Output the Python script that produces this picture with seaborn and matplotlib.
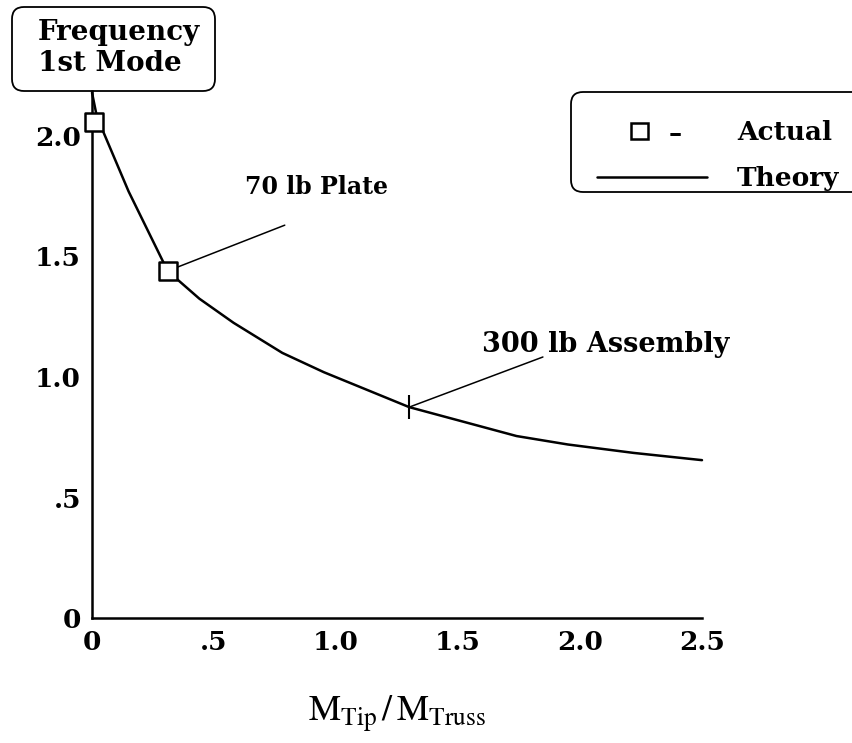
import matplotlib
matplotlib.use("Agg")
import matplotlib.pyplot as plt
import seaborn as sns
import pandas as pd
from matplotlib.patches import FancyBboxPatch
from matplotlib.lines import Line2D
from matplotlib.markers import MarkerStyle
from matplotlib.transforms import IdentityTransform, Affine2D

# ---- data ----
theory_x = [0.0, 0.02, 0.15, 0.31, 0.44, 0.58, 0.78, 0.95, 1.30, 1.74, 1.95, 2.22, 2.50]
theory_y = [2.18, 2.08, 1.77, 1.44, 1.325, 1.225, 1.10, 1.02, 0.875, 0.755, 0.72, 0.685, 0.655]
actual_x = [0.01, 0.31]
actual_y = [2.06, 1.44]
assembly_x = [1.30]
assembly_y = [0.875]
xticks = [0, 0.5, 1.0, 1.5, 2.0, 2.5]
xtick_labels = ["0", ".5", "1.0", "1.5", "2.0", "2.5"]
yticks = [0, 0.5, 1.0, 1.5, 2.0]
ytick_labels = ["0", ".5", "1.0", "1.5", "2.0"]

W, H = 852, 743
sns.set_theme(style="white")
plt.rcParams["font.family"] = ["DejaVu Serif"]
plt.rcParams["mathtext.fontset"] = "stix"
plt.rcParams["text.color"] = "black"
plt.rcParams["axes.labelcolor"] = "black"
plt.rcParams["xtick.color"] = "black"
plt.rcParams["ytick.color"] = "black"

fig = plt.figure(figsize=(W / 100, H / 100), dpi=100)
ax = fig.add_axes([92 / W, 125 / H, 610 / W, 527 / H])
ax.patch.set_visible(False)

df_t = pd.DataFrame({"x": theory_x, "y": theory_y})
sns.lineplot(data=df_t, x="x", y="y", ax=ax, color="black", lw=1.8,
             sort=False, clip_on=False, zorder=2)

# leader lines
ax.plot([0.31, 0.79], [1.44, 1.63], color="black", lw=1.1, zorder=1)
ax.plot([1.30, 1.848], [0.875, 1.083], color="black", lw=1.1, zorder=1)

df_a = pd.DataFrame({"x": actual_x, "y": actual_y})
sns.scatterplot(data=df_a, x="x", y="y", ax=ax, marker="s", s=12.5 ** 2,
                facecolor="white", edgecolor="black", linewidth=1.8,
                clip_on=False, zorder=3)
df_s = pd.DataFrame({"x": assembly_x, "y": assembly_y})
sns.scatterplot(data=df_s, x="x", y="y", ax=ax, marker="|", s=17 ** 2,
                color="black", linewidth=1.5, clip_on=False, zorder=3)

ax.text(0.627, 1.79, "70 lb Plate", fontsize=17, fontweight="bold",
        ha="left", va="center")
ax.text(1.598, 1.133, "300 lb Assembly", fontsize=19.5, fontweight="bold",
        ha="left", va="center")

ax.set_xlim(0, 2.5)
ax.set_ylim(0, 527 / 241)
ax.set_xticks(xticks)
ax.set_xticklabels(xtick_labels)
ax.set_yticks(yticks)
ax.set_yticklabels(ytick_labels)
for lab in ax.get_xticklabels() + ax.get_yticklabels():
    lab.set_fontweight("bold")
    lab.set_fontsize(19)
ax.tick_params(axis="both", direction="in", length=9, width=1.5,
               color="black", labelcolor="black")
ax.tick_params(axis="y", pad=8)
ax.tick_params(axis="x", pad=9)
sns.despine(ax=ax)
for side in ["left", "bottom"]:
    ax.spines[side].set_linewidth(1.8)
    ax.spines[side].set_color("black")
ax.set_ylabel("")
ax.set_xlabel(r"$\mathrm{M_{Tip}\,/\,M_{Truss}}$", fontsize=26, labelpad=27,
              color="black")

# Frequency box
fbox = FancyBboxPatch((12, H - 91), 203, 84,
                      boxstyle="round,pad=0,rounding_size=12",
                      transform=IdentityTransform(), facecolor="white",
                      edgecolor="black", lw=1.3, zorder=-1)
fig.add_artist(fbox)
fig.text(38 / W, 1 - 48 / H, "Frequency\n1st Mode", fontsize=20,
         fontweight="bold", ha="left", va="center", linespacing=1.2)

# Legend box
lbox = FancyBboxPatch((571, H - 192), 400, 100,
                      boxstyle="round,pad=0,rounding_size=12",
                      transform=IdentityTransform(), facecolor="white",
                      edgecolor="black", lw=1.3, zorder=-1)
fig.add_artist(lbox)
sq = MarkerStyle("s", transform=Affine2D().translate(-0.75, 0))
handles = [Line2D([], [], marker=sq, ls="none", ms=12, mfc="white",
                  mec="black", mew=1.8),
           Line2D([], [], color="black", lw=1.8)]
leg = ax.legend(handles, ["Actual", "Theory"], loc="upper left",
                bbox_to_anchor=(597 / W, 1 - 120 / H),
                bbox_transform=fig.transFigure, frameon=False,
                prop={"family": "DejaVu Serif", "weight": "bold", "size": 19},
                handlelength=4.17, handletextpad=1.14, labelspacing=0.8,
                borderpad=0, borderaxespad=0)
for t in leg.get_texts():
    t.set_color("black")
fig.text(675 / W, 1 - 134 / H, "–", fontsize=19, fontweight="bold",
         ha="center", va="center")

fig.savefig("out.png", dpi=100)
